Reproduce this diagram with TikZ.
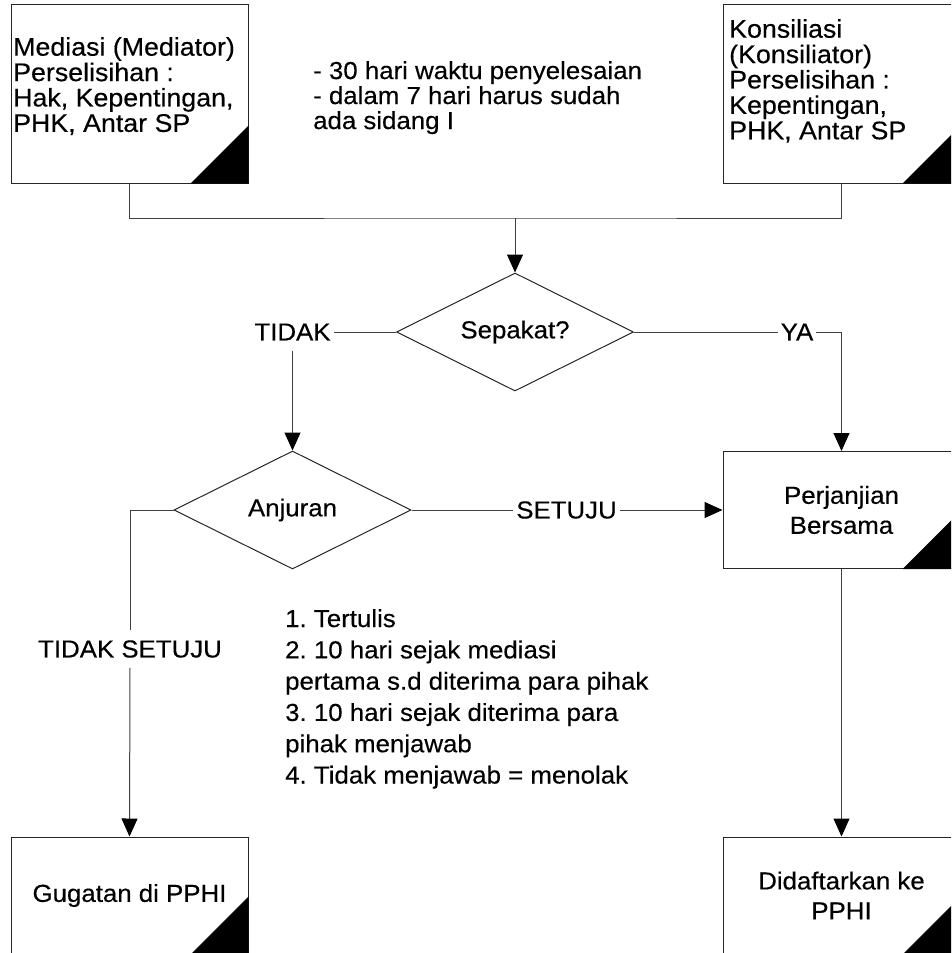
\documentclass[tikz,border=0pt]{standalone}
\usepackage{fontspec}
\setmainfont[FakeStretch=1.05,FakeBold=0.3]{Liberation Sans}
\usetikzlibrary{arrows.meta,positioning,shapes.geometric}
\frenchspacing
\tikzset{
  procbox/.style = {draw=black!85, line width=1pt, minimum width=237pt, inner sep=0pt,
                    align=center, font=\fontsize{24.6}{30}\selectfont},
  decbox/.style  = {draw=black!85, diamond, aspect=2, line width=1pt, minimum width=237pt,
                    minimum height=118pt, inner sep=0pt, font=\fontsize{24.6}{25}\selectfont},
  txt/.style     = {font=\fontsize{24.6}{25}\selectfont, inner sep=0pt, align=left},
  boxtxt/.style  = {txt, font=\fontsize{25.5}{25.4}\selectfont},
  lbl/.style     = {font=\fontsize{24.6}{25}\selectfont, inner xsep=3pt, inner ysep=10pt},
  ln/.style      = {draw=black!75, line width=1pt},
  ar/.style      = {ln, -{Triangle[length=18pt,width=16pt,color=black]}}
}

\begin{document}
\begin{tikzpicture}[x=1pt, y=1pt]
\useasboundingbox (0,0) rectangle (951,-953);
\clip (0,0) rectangle (951,-953);

% ---- start: mediasi / konsiliasi ----
\node[procbox, minimum height=179pt] (med) at (129.5,-93.5) {};
\node[procbox, minimum height=179pt] (kon) at (841.5,-93.5) {};
\node[boxtxt, anchor=north west] (medt) at (13,-37)
  {Mediasi (Mediator)\\Perselisihan :\\Hak, Kepentingan,\\PHK, Antar SP};
\node[boxtxt, anchor=north west] (kont) at (729,-19)
  {Konsiliasi\\(Konsiliator)\\Perselisihan :\\Kepentingan,\\PHK, Antar SP};
\node[txt, anchor=north west] (waktu) at (313,-61)
  {- 30 hari waktu penyelesaian\\- dalam 7 hari harus sudah\\ada sidang I};
\coordinate (j) at (515,-218);

% ---- decisions ----
\node[decbox] (sep) at (515,-332) {Sepakat?};
\node[decbox] (anj) at (292.5,-510) {Anjuran};
\node[lbl] (tidak) at (292.5,-332) {TIDAK};
\node[lbl] (ya) at (797,-332) {YA};
\node[lbl] (setuju) at (566.5,-510) {SETUJU};
\node[lbl] (ts) at (130,-649) {TIDAK SETUJU};

% ---- results ----
\node[procbox, minimum height=117pt] (pb) at (841.5,-510) {Perjanjian\\Bersama};
\node[procbox, minimum height=117pt] (gug) at (129.5,-895.5) {Gugatan di PPHI};
\node[procbox, minimum height=117pt] (daf) at (841.5,-895.5) {Didaftarkan ke\\PPHI};
\node[txt, anchor=north west, font=\fontsize{24.6}{31.3}\selectfont] (syarat) at (285,-609)
  {1. Tertulis\\2. 10 hari sejak mediasi\\pertama s.d diterima para pihak\\3. 10 hari sejak diterima para\\pihak menjawab\\4. Tidak menjawab = menolak};

% ---- black corners ----
\foreach \b in {med,kon,pb,gug,daf}
  \fill (\b.south east) -- ++(-58,0) -- ++(58,58) -- cycle;

% ---- connectors ----
\draw[ln] (med.south) |- (j) -| (kon.south);
\draw[ar] (j) -- (sep.north);
\draw[ln] (sep.west) -- (tidak.east);
\draw[ar] (tidak.south) -- (anj.north);
\draw[ln] (sep.east) -- (ya.west);
\draw[ar] (ya.east) -| (pb.north);
\draw[ln] (anj.east) -- (setuju.west);
\draw[ar] (setuju.east) -- (pb.west);
\draw[ln] (anj.west) -| (ts.north);
\draw[ar] (ts.south) -- (gug.north);
\draw[ar] (pb.south) -- (daf.north);
\end{tikzpicture}
\end{document}
